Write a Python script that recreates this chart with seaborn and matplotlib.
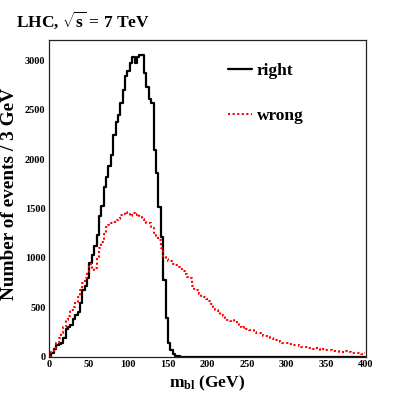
import numpy as np
import pandas as pd
import matplotlib
matplotlib.use("Agg")
import matplotlib.pyplot as plt
from matplotlib.lines import Line2D
from matplotlib.ticker import MultipleLocator
import seaborn as sns

# ---- data (3 GeV bins starting at 0) ----
bin_width = 3
right_counts = [5, 34, 75, 118, 130, 142, 186, 280, 304, 321,
                379, 422, 456, 541, 676, 716, 794, 946, 1030, 1120,
                1233, 1425, 1530, 1723, 1824, 1932, 2044, 2246, 2381, 2449,
                2567, 2702, 2844, 2898, 2979, 3033, 2973, 3040, 3057, 3057,
                2871, 2736, 2608, 2567, 2094, 1858, 1520, 1216, 777, 389,
                136, 68, 27, 7, 3, 1, 1, 0, 0, 0,
                0, 0, 0, 0, 0, 0, 0, 0, 0, 0,
                0, 0, 0, 0, 0, 0, 0, 0, 0, 0,
                0, 0, 0, 0, 0, 0, 0, 0, 0, 0,
                0, 0, 0, 0, 0, 0, 0, 0, 0, 0,
                0, 0, 0, 0, 0, 0, 0, 0, 0, 0,
                0, 0, 0, 0, 0, 0, 0, 0, 0, 0,
                0, 0, 0, 0, 0, 0, 0, 0, 0, 0,
                0, 0, 0]
wrong_counts = [10, 45, 85, 135, 186, 237, 304, 372, 412, 473,
                507, 557, 608, 676, 743, 794, 861, 940, 880, 900,
                1013, 1098, 1165, 1240, 1317, 1330, 1351, 1368, 1380, 1390,
                1436, 1440, 1462, 1445, 1430, 1453, 1440, 1445, 1420, 1390,
                1360, 1350, 1352, 1300, 1250, 1225, 1180, 1100, 1010, 985,
                970, 965, 935, 925, 910, 885, 870, 840, 805, 795,
                720, 690, 676, 640, 610, 600, 585, 565, 530, 500,
                470, 455, 420, 410, 395, 372, 360, 375, 355, 340,
                300, 295, 305, 280, 270, 272, 255, 240, 237, 225,
                210, 205, 198, 190, 175, 170, 165, 150, 140, 138,
                140, 128, 122, 118, 120, 108, 100, 102, 95, 85,
                88, 80, 85, 78, 72, 82, 70, 64, 68, 60,
                55, 56, 50, 52, 48, 60, 45, 40, 42, 36,
                34, 30, 38]
series_labels = ["right", "wrong"]
title_text = r"LHC, $\sqrt{\mathbf{s}}$ = 7 TeV"
x_label = r"$\mathbf{m_{bl}}$ (GeV)"
y_label = "Number of events / 3 GeV"

# ---- style ----
sns.set_style("white")
plt.rcParams["font.family"] = ["Liberation Serif", "DejaVu Serif"]
plt.rcParams["font.weight"] = "bold"
plt.rcParams["mathtext.fontset"] = "custom"
plt.rcParams["mathtext.rm"] = "Liberation Serif:bold"
plt.rcParams["mathtext.bf"] = "Liberation Serif:bold"
plt.rcParams["mathtext.it"] = "Liberation Serif:bold"
plt.rcParams["text.color"] = "black"
plt.rcParams["axes.labelcolor"] = "black"
plt.rcParams["xtick.color"] = "black"
plt.rcParams["ytick.color"] = "black"

fig = plt.figure(figsize=(4.07, 3.97), dpi=100)
ax = fig.add_axes([0.1204, 0.1015, 0.779, 0.799])

def hist_frame(counts):
    n = len(counts)
    edges = [float(i * bin_width) for i in range(n + 1)]
    centers = [e + bin_width / 2 for e in edges[:-1]]
    return pd.DataFrame({"x": centers, "w": counts}), edges

df_r, e_r = hist_frame(right_counts)
df_w, e_w = hist_frame(wrong_counts)

sns.histplot(data=df_r, x="x", weights="w", bins=e_r, element="step", fill=False,
             color="black", linewidth=1.6, ax=ax)
sns.histplot(data=df_w, x="x", weights="w", bins=e_w, element="step", fill=False,
             color="#ff0000", linewidth=1.5, linestyle=(0, (1, 1.2)), ax=ax)

ax.set_xlim(0, 400)
ax.set_ylim(0, 3213)

ax.xaxis.set_major_locator(MultipleLocator(50))
ax.xaxis.set_minor_locator(MultipleLocator(10))
ax.yaxis.set_major_locator(MultipleLocator(500))
ax.yaxis.set_minor_locator(MultipleLocator(100))
ax.tick_params(axis="both", which="major", direction="in", length=6, width=0.8,
               labelsize=7.5, color="#444444", labelcolor="black", pad=2.5)
ax.tick_params(axis="both", which="minor", direction="in", length=3, width=0.8,
               color="#444444")
ax.tick_params(top=False, right=False, which="both")
for lab in ax.get_xticklabels() + ax.get_yticklabels():
    lab.set_fontweight("bold")
for sp in ax.spines.values():
    sp.set_linewidth(0.9)
    sp.set_color("#222222")

ax.set_xlabel(x_label, fontsize=12.5, fontweight="bold", labelpad=3, color="black")
ax.set_ylabel(y_label, fontsize=13.9, fontweight="bold", loc="top", color="black")
ax.yaxis.set_label_coords(-0.097, 0.847)

fig.text(0.039, 0.932, title_text, fontsize=12.5, fontweight="bold",
         ha="left", va="baseline", color="black")

handles = [Line2D([0], [0], color="black", linewidth=1.6),
           Line2D([0], [0], color="#ff0000", linewidth=1.5, linestyle=(0, (1, 1.2)))]
leg = ax.legend(handles, series_labels, loc="upper left", bbox_to_anchor=(0.564, 0.9275),
                frameon=False, prop={"weight": "bold", "size": 12.5},
                handlelength=1.38, handletextpad=0.29, labelspacing=1.67,
                borderaxespad=0, borderpad=0)
for t in leg.get_texts():
    t.set_color("black")

fig.savefig("out.png", dpi=100)
